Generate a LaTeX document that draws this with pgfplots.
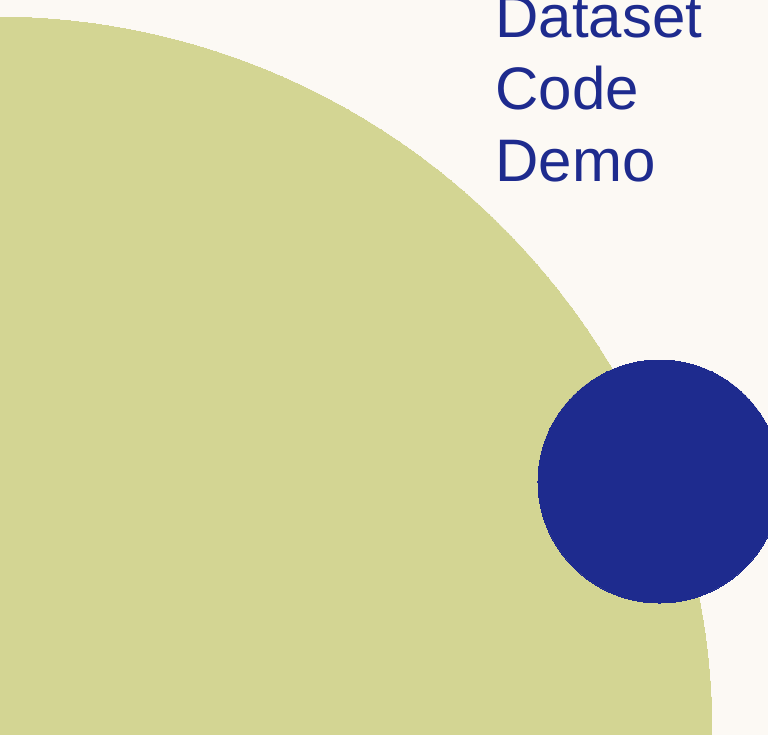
\documentclass[border=0pt]{standalone}
\usepackage{pgfplots}
\pgfplotsset{compat=1.18}
\usepackage{fontspec}
\setmainfont{Liberation Sans}
\definecolor{cream}{RGB}{252,249,244}
\definecolor{sage}{RGB}{211,213,147}
\definecolor{navy}{RGB}{30,43,142}
\begin{document}
\begin{tikzpicture}
\begin{axis}[
  scale only axis, width=389pt, height=367.5pt,
  xmin=-10, xmax=768, ymin=0, ymax=735, y dir=reverse,
  axis lines=none, ticks=none,
  axis background/.style={fill=cream},
]
% large circle: radius 717 px = 358.5pt
\addplot[only marks, mark=*, mark size=358.5pt, color=sage, line width=0pt, mark options={fill=sage, draw=sage, line width=0pt}] coordinates {(-5,734)};
% small circle: radius 121.5 px = 60.75pt
\addplot[only marks, mark=*, mark size=60.75pt, color=navy, line width=0pt, mark options={fill=navy, draw=navy, line width=0pt}] coordinates {(659.5,481.5)};
\node[anchor=base west, inner sep=0pt, text=navy, font=\fontsize{30pt}{36pt}\selectfont] at (axis cs:495,37) {Dataset};
\node[anchor=base west, inner sep=0pt, text=navy, font=\fontsize{30pt}{36pt}\selectfont] at (axis cs:495,109) {Code};
\node[anchor=base west, inner sep=0pt, text=navy, font=\fontsize{30pt}{36pt}\selectfont] at (axis cs:495,181) {Demo};
\coordinate (bl) at (axis cs:0,735);
\coordinate (tr) at (axis cs:768,0);
\end{axis}
\pgfresetboundingbox
\useasboundingbox (bl) rectangle (tr);
\end{tikzpicture}
\end{document}
